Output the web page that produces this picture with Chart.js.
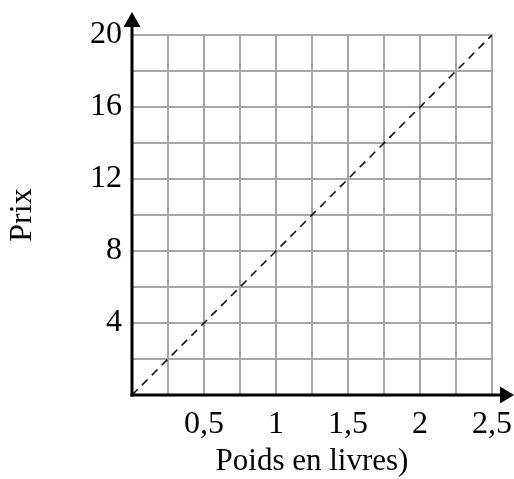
<!DOCTYPE html>
<html>
<head>
<meta charset="utf-8">
<script src="https://cdn.jsdelivr.net/npm/chart.js@4"></script>
<style>
  html, body { margin: 0; padding: 0; background: #fff; }
  #wrap { width: 514px; height: 479px; }
</style>
</head>
<body>
<div id="wrap"><canvas id="chart" width="514" height="479"></canvas></div>
<script>
// price line: weight (pounds) -> price
const weights = [0, 2.5];
const prices = [0, 20];

// labelled ticks (other grid lines stay unlabelled)
const xLabelValues = [0.5, 1, 1.5, 2, 2.5];
const yLabelValues = [4, 8, 12, 16, 20];

const FONT = "'Liberation Serif', 'Times New Roman', serif";

// thick black axes with arrow heads
const axesPlugin = {
    id: 'axes',
    afterDraw(chart) {
        const { ctx } = chart;
        const x = chart.scales.x, y = chart.scales.y;
        const x0 = x.getPixelForValue(0);
        const y0 = y.getPixelForValue(0);
        const yTop = y.getPixelForValue(20);
        ctx.save();
        ctx.strokeStyle = '#000';
        ctx.fillStyle = '#000';
        ctx.lineWidth = 3;
        // vertical axis
        ctx.beginPath();
        ctx.moveTo(x0, y0 + 1.5);
        ctx.lineTo(x0, yTop - 8);
        ctx.stroke();
        ctx.beginPath();
        ctx.moveTo(x0 - 8.5, yTop - 8);
        ctx.lineTo(x0 + 8.5, yTop - 8);
        ctx.lineTo(x0, yTop - 23);
        ctx.closePath();
        ctx.fill();
        // horizontal axis
        const xEnd = chart.width - 14;
        ctx.beginPath();
        ctx.moveTo(x0 - 1.5, y0);
        ctx.lineTo(xEnd, y0);
        ctx.stroke();
        ctx.beginPath();
        ctx.moveTo(xEnd, y0 - 8.5);
        ctx.lineTo(xEnd, y0 + 8.5);
        ctx.lineTo(chart.width, y0);
        ctx.closePath();
        ctx.fill();
        ctx.restore();
    }
};

const fmt = v => String(v).replace('.', ',');

new Chart(document.getElementById('chart'), {
    type: 'scatter',
    data: {
        datasets: [{
            data: weights.map((w, i) => ({ x: w, y: prices[i] })),
            showLine: true,
            borderColor: '#000',
            borderWidth: 1.5,
            borderDash: [8, 6],
            pointRadius: 0,
            fill: false,
        }],
    },
    options: {
        responsive: false,
        animation: false,
        layout: { padding: { top: 35, right: 22, bottom: 0, left: 0 } },
        plugins: {
            legend: { display: false },
            tooltip: { enabled: false },
        },
        scales: {
            x: {
                type: 'linear',
                min: 0,
                max: 2.5,
                afterFit: s => { s.height = 84; s.paddingLeft = 0; s.paddingRight = 0; },
                border: { display: false },
                grid: { color: '#a6a6a6', lineWidth: 2, drawTicks: false },
                ticks: {
                    stepSize: 0.25,
                    padding: 10,
                    color: '#000',
                    font: { family: FONT, size: 32 },
                    maxRotation: 0,
                    autoSkip: false,
                    callback: v => xLabelValues.some(l => Math.abs(l - v) < 1e-6) ? fmt(v) : '',
                },
                title: {
                    display: true,
                    text: 'Poids en livres)',
                    color: '#000',
                    font: { family: FONT, size: 31 },
                    padding: { top: 0, bottom: -1 },
                },
            },
            y: {
                type: 'linear',
                min: 0,
                max: 20,
                afterFit: s => { s.width = 132; s.paddingTop = 0; s.paddingBottom = 0; },
                border: { display: false },
                grid: { color: '#a6a6a6', lineWidth: 2, drawTicks: false },
                ticks: {
                    stepSize: 2,
                    padding: 10,
                    color: '#000',
                    font: { family: FONT, size: 32 },
                    autoSkip: false,
                    callback: v => yLabelValues.includes(v) ? String(v) : '',
                },
                title: {
                    display: true,
                    text: 'Prix',
                    color: '#000',
                    font: { family: FONT, size: 32 },
                    padding: { top: 3, bottom: 0 },
                },
            },
        },
    },
    plugins: [axesPlugin],
});
</script>
</body>
</html>
